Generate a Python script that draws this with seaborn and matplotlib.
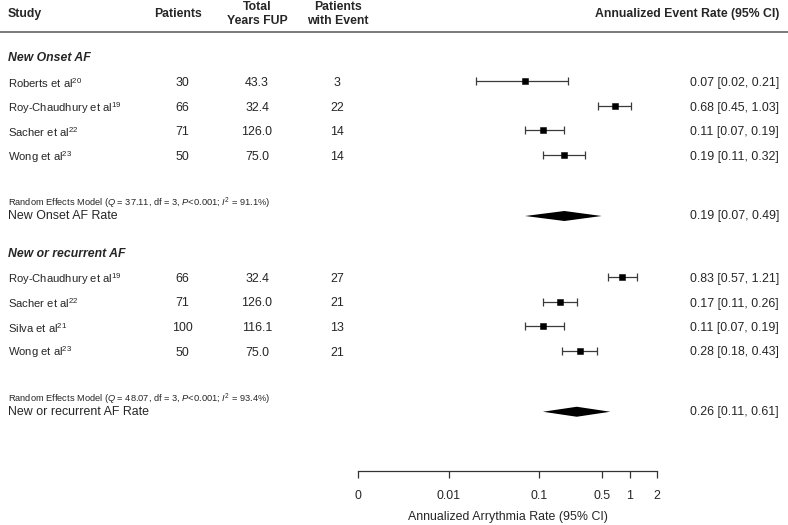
import numpy as np
import matplotlib
matplotlib.use("Agg")
import matplotlib.pyplot as plt
import matplotlib.transforms as mtransforms
import seaborn as sns

# data
groups = ["New Onset AF", "New or recurrent AF"]
studies_g1 = ["Roberts et al$^{20}$", "Roy-Chaudhury et al$^{19}$", "Sacher et al$^{22}$", "Wong et al$^{23}$"]
patients_g1 = [30, 66, 71, 50]
years_g1 = [43.3, 32.4, 126.0, 75.0]
events_g1 = [3, 22, 14, 14]
rate_g1 = [0.07, 0.68, 0.11, 0.19]
lo_g1 = [0.02, 0.45, 0.07, 0.11]
hi_g1 = [0.21, 1.03, 0.19, 0.32]

studies_g2 = ["Roy-Chaudhury et al$^{19}$", "Sacher et al$^{22}$", "Silva et al$^{21}$", "Wong et al$^{23}$"]
patients_g2 = [66, 71, 100, 50]
years_g2 = [32.4, 126.0, 116.1, 75.0]
events_g2 = [27, 21, 13, 21]
rate_g2 = [0.83, 0.17, 0.11, 0.28]
lo_g2 = [0.57, 0.11, 0.07, 0.18]
hi_g2 = [1.21, 0.26, 0.19, 0.43]

summary_labels = ["New Onset AF Rate", "New or recurrent AF Rate"]
summary_rate = [0.19, 0.26]
summary_lo = [0.07, 0.11]
summary_hi = [0.49, 0.61]
model_stats = [
    "Random Effects Model ($Q$ = 37.11, df = 3, $P$<0.001; $I^2$ = 91.1%)",
    "Random Effects Model ($Q$ = 48.07, df = 3, $P$<0.001; $I^2$ = 93.4%)",
]

tick_vals = [0.001, 0.01, 0.1, 0.5, 1, 2]
tick_labels = ["0", "0.01", "0.1", "0.5", "1", "2"]

sns.set_theme(style="white")
plt.rcParams["font.family"] = ["Liberation Sans", "DejaVu Sans"]
plt.rcParams["mathtext.fontset"] = "custom"
plt.rcParams["mathtext.rm"] = "Liberation Sans"
plt.rcParams["mathtext.it"] = "Liberation Sans:italic"
plt.rcParams["mathtext.bf"] = "Liberation Sans:bold"

W, H = 788, 525
fig = plt.figure(figsize=(W / 100, H / 100), dpi=100)
ax = fig.add_axes([358 / W, (H - 471) / H, 299 / W, 471 / H])
ax.set_xscale("log")
ax.set_xlim(0.001, 2)
ax.set_ylim(471 / 25, 0)
trans = mtransforms.blended_transform_factory(fig.transFigure, ax.transData)

x_study, x_pat, x_yrs, x_evt, x_ci = 8 / W, 182 / W, 257 / W, 337 / W, 779 / W
body = 8.9
hdr = 8.8

# header
hy = 0.56
ax.text(x_study, hy, "Study", transform=trans, fontsize=hdr, fontweight="bold", va="center", ha="left")
ax.text(178 / W, hy, "Patients", transform=trans, fontsize=hdr, fontweight="bold", va="center", ha="center")
ax.text(x_yrs, hy, "Total\nYears FUP", transform=trans, fontsize=hdr, fontweight="bold", va="center", ha="center", linespacing=1.2)
ax.text(338 / W, hy, "Patients\nwith Event", transform=trans, fontsize=hdr, fontweight="bold", va="center", ha="center", linespacing=1.2)
ax.text(x_ci, hy, "Annualized Event Rate (95% CI)", transform=trans, fontsize=hdr, fontweight="bold", va="center", ha="right")
ax.plot([0, 1], [1.27, 1.27], transform=trans, color="#7a7a7a", lw=1.4, clip_on=False)

group_data = [
    (studies_g1, patients_g1, years_g1, events_g1, rate_g1, lo_g1, hi_g1),
    (studies_g2, patients_g2, years_g2, events_g2, rate_g2, lo_g2, hi_g2),
]

y = 2.33
for g, (names, pats, yrs, evts, rate, lo, hi) in enumerate(group_data):
    ax.text(x_study, y, groups[g], transform=trans, fontsize=hdr, fontweight="bold", style="italic", va="center", ha="left")
    ys = y + 1 + np.arange(len(names)) * 0.98
    for i in range(len(names)):
        ax.text(x_study, ys[i], names[i], transform=trans, fontsize=8.1, va="center", ha="left")
        ax.text(x_pat, ys[i], f"{pats[i]}", transform=trans, fontsize=body, va="center", ha="center")
        ax.text(x_yrs, ys[i], f"{yrs[i]:.1f}", transform=trans, fontsize=body, va="center", ha="center")
        ax.text(x_evt, ys[i], f"{evts[i]}", transform=trans, fontsize=body, va="center", ha="center")
        ax.text(x_ci, ys[i], f"{rate[i]:.2f} [{lo[i]:.2f}, {hi[i]:.2f}]", transform=trans,
                fontsize=body, va="center", ha="right")
    rate = np.array(rate)
    ax.errorbar(rate, ys - 0.08, xerr=[rate - np.array(lo), np.array(hi) - rate], fmt="none",
                ecolor="#3a3a3a", elinewidth=0.9, capsize=2.8, capthick=0.9)
    sns.scatterplot(x=rate, y=ys - 0.08, marker="s", s=22, color="black", edgecolor="black", ax=ax, zorder=3)

    sy = ys[-1] + 2.37
    ax.text(x_study, sy - 0.5, model_stats[g], transform=trans, fontsize=6.7, va="center", ha="left")
    ax.text(x_study, sy, summary_labels[g], transform=trans, fontsize=body, va="center", ha="left")
    ax.fill([summary_lo[g], summary_rate[g], summary_hi[g], summary_rate[g]],
            [sy, sy - 0.2, sy, sy + 0.2], color="black", lw=0)
    ax.text(x_ci, sy, f"{summary_rate[g]:.2f} [{summary_lo[g]:.2f}, {summary_hi[g]:.2f}]",
            transform=trans, fontsize=body, va="center", ha="right")
    y = sy + 1.52

# axis
for side in ["top", "left", "right"]:
    ax.spines[side].set_visible(False)
ax.spines["bottom"].set_color("#333333")
ax.spines["bottom"].set_linewidth(0.9)
ax.set_yticks([])
ax.set_xticks(tick_vals)
ax.set_xticklabels(tick_labels, fontsize=body)
ax.xaxis.set_minor_locator(matplotlib.ticker.NullLocator())
ax.tick_params(axis="x", bottom=True, length=5, width=0.9, color="#333333", pad=9)
ax.set_xlabel("Annualized Arrythmia Rate (95% CI)", fontsize=body, labelpad=6)

fig.savefig("out.png", dpi=100)
